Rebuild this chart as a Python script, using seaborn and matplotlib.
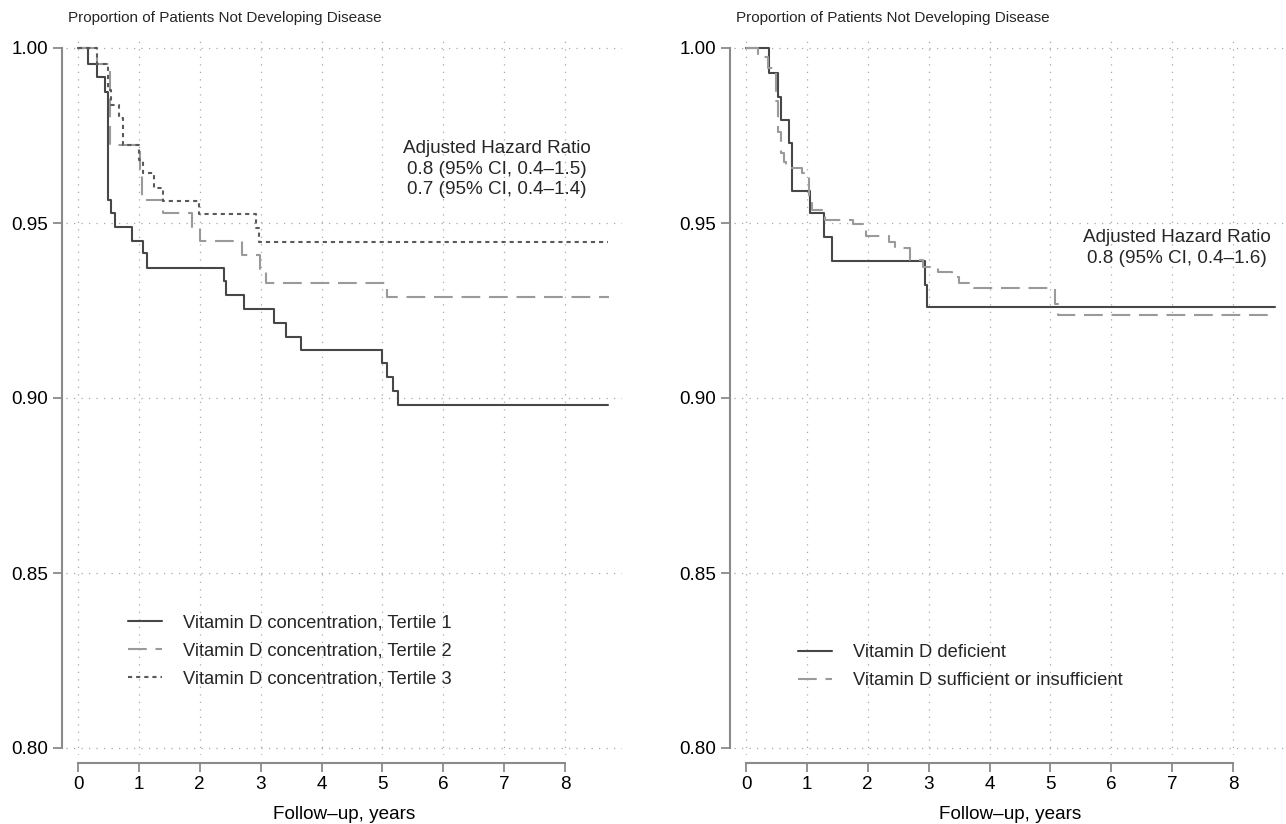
import matplotlib
matplotlib.use("Agg")
import matplotlib.pyplot as plt
import seaborn as sns
import pandas as pd

# ---------------- data ----------------
# Left panel: tertiles of vitamin D concentration (Kaplan-Meier steps)
t1_time = [0, 0.17, 0.32, 0.45, 0.50, 0.54, 0.61, 0.88, 1.06, 1.14, 2.40, 2.43,
           2.73, 3.22, 3.42, 3.67, 5.00, 5.08, 5.17, 5.25, 8.70]
t1_surv = [1.0, 0.9954, 0.9916, 0.9875, 0.9566, 0.953, 0.949, 0.945, 0.9413, 0.9372,
           0.9334, 0.9294, 0.9254, 0.9215, 0.9175, 0.9137, 0.9099, 0.9061, 0.902, 0.898, 0.898]

t2_time = [0, 0.31, 0.52, 1.02, 1.05, 1.40, 1.87, 2.00, 2.69, 2.99, 3.09, 5.07, 8.73]
t2_surv = [1.0, 0.9954, 0.9723, 0.964, 0.9566, 0.9528, 0.9488, 0.9449, 0.9409,
           0.9366, 0.9328, 0.9288, 0.9288]

t3_time = [0, 0.31, 0.50, 0.54, 0.68, 0.74, 1.01, 1.06, 1.25, 1.39, 1.98, 2.92, 2.97, 8.70]
t3_surv = [1.0, 0.9954, 0.988, 0.9837, 0.980, 0.9723, 0.968, 0.9642, 0.960, 0.9564,
           0.9526, 0.9486, 0.9447, 0.9447]

# Right panel: deficient vs sufficient/insufficient
def_time = [0, 0.38, 0.53, 0.57, 0.71, 0.76, 1.05, 1.28, 1.42, 2.94, 2.98, 8.69]
def_surv = [1.0, 0.9928, 0.986, 0.9794, 0.9728, 0.9592, 0.9528, 0.946, 0.9392,
            0.9323, 0.9259, 0.9259]

suf_time = [0, 0.20, 0.36, 0.50, 0.53, 0.57, 0.62, 0.66, 0.92, 1.03, 1.08, 1.30, 1.75,
            1.97, 2.35, 2.45, 2.70, 2.90, 3.15, 3.38, 3.50, 3.75, 5.08, 5.12, 8.63]
suf_surv = [1.0, 0.9975, 0.9942, 0.985, 0.976, 0.970, 0.9675, 0.9656, 0.9642, 0.9556,
            0.9537, 0.951, 0.9497, 0.9463, 0.9445, 0.9428, 0.9394, 0.9375, 0.936, 0.9347,
            0.9328, 0.9315, 0.927, 0.9237, 0.9237]

left_labels = ["Vitamin D concentration, Tertile 1",
               "Vitamin D concentration, Tertile 2",
               "Vitamin D concentration, Tertile 3"]
right_labels = ["Vitamin D deficient", "Vitamin D sufficient or insufficient"]

title_text = "Proportion of Patients Not Developing Disease"
xlabel_text = "Follow–up, years"
left_annot = "Adjusted Hazard Ratio\n0.8 (95% CI, 0.4–1.5)\n0.7 (95% CI, 0.4–1.4)"
right_annot = "Adjusted Hazard Ratio\n0.8 (95% CI, 0.4–1.6)"

xticks = [0, 1, 2, 3, 4, 5, 6, 7, 8]
yticks = [0.80, 0.85, 0.90, 0.95, 1.00]
ytick_labels = ["0.80", "0.85", "0.90", "0.95", "1.00"]

# ---------------- style ----------------
sns.set_theme(style="white")
plt.rcParams['font.family'] = ['Liberation Sans', 'DejaVu Sans']

W, H = 1286, 824
fig = plt.figure(figsize=(W / 100, H / 100), dpi=100)

def px_axes(x0, x1, y0, y1):
    return fig.add_axes([x0 / W, 1 - y1 / H, (x1 - x0) / W, (y1 - y0) / H])

axL = px_axes(66, 622, 40, 755)
axR = px_axes(734, 1286, 40, 755)

c_solid = "#474747"
c_dash = "#9a9a9a"
c_dot = "#5a5a5a"
dash_ls = (0, (9.0, 4.2))
dot_ls = (0, (2.0, 1.9))
lw = 1.5

def km(ax, t, s, label, color, ls):
    df = pd.DataFrame({"time": t, "surv": s})
    sns.lineplot(data=df, x="time", y="surv", ax=ax, drawstyle="steps-post",
                 color=color, linestyle=ls, linewidth=lw, label=label,
                 estimator=None, sort=False)

km(axL, t1_time, t1_surv, left_labels[0], c_solid, "-")
km(axL, t2_time, t2_surv, left_labels[1], c_dash, dash_ls)
km(axL, t3_time, t3_surv, left_labels[2], c_dot, dot_ls)

km(axR, def_time, def_surv, right_labels[0], c_solid, "-")
km(axR, suf_time, suf_surv, right_labels[1], c_dash, dash_ls)

pxyr = 60.875
FS = 13.6
for ax, x0px, x1px, zero_px in [(axL, 66, 622, 78), (axR, 734, 1286, 746)]:
    ax.set_xlim((x0px - zero_px) / pxyr, (x1px - zero_px) / pxyr)
    ax.set_ylim(0.80 - 7 / 3500, 1.0 + 8 / 3500)
    ax.set_xticks(xticks)
    ax.set_yticks(yticks)
    ax.set_yticklabels(ytick_labels)
    ax.grid(True, which="major", color="#a8a8a8", linestyle=(0, (1, 5)), linewidth=0.9)
    for sp in ["top", "right"]:
        ax.spines[sp].set_visible(False)
    ax.spines["left"].set_position(("outward", 2.7))
    ax.spines["bottom"].set_position(("outward", 5.8))
    ax.spines["left"].set_bounds(0.80, 1.00)
    ax.spines["bottom"].set_bounds(0, 8)
    for sp in ["left", "bottom"]:
        ax.spines[sp].set_color("#8a8a8a")
        ax.spines[sp].set_linewidth(1.5)
    ax.tick_params(axis="both", which="major", direction="out", length=6.8, width=1.3,
                   color="#8a8a8a", labelsize=FS, labelcolor="black",
                   left=True, bottom=True)
    ax.tick_params(axis="x", pad=2.5)
    ax.tick_params(axis="y", pad=3.5)
    ax.set_xlabel(xlabel_text, fontsize=FS, labelpad=9.5, color="black")
    ax.set_ylabel("")

# titles
fig.text(68 / W, 1 - 18 / H, title_text, ha="left", va="center", fontsize=11)
fig.text(736 / W, 1 - 18 / H, title_text, ha="left", va="center", fontsize=11)

# annotations
axL.text((497 - 66) / 556, (755 - 169) / 715, left_annot, transform=axL.transAxes,
         ha="center", va="center", fontsize=13.6, linespacing=1.27)
axR.text((1177 - 734) / 552, (755 - 248) / 715, right_annot, transform=axR.transAxes,
         ha="center", va="center", fontsize=13.6, linespacing=1.27)

# legends
legkw = dict(frameon=False, fontsize=13.2, handlelength=1.85, handletextpad=1.15,
             labelspacing=0.6, borderpad=0, borderaxespad=0, loc="upper left")
axL.legend(bbox_to_anchor=((128 - 66) / 556, (755 - 614) / 715), **legkw)
axR.legend(bbox_to_anchor=((798 - 734) / 552, (755 - 644) / 715), **legkw)

fig.savefig("out.png", dpi=100)
